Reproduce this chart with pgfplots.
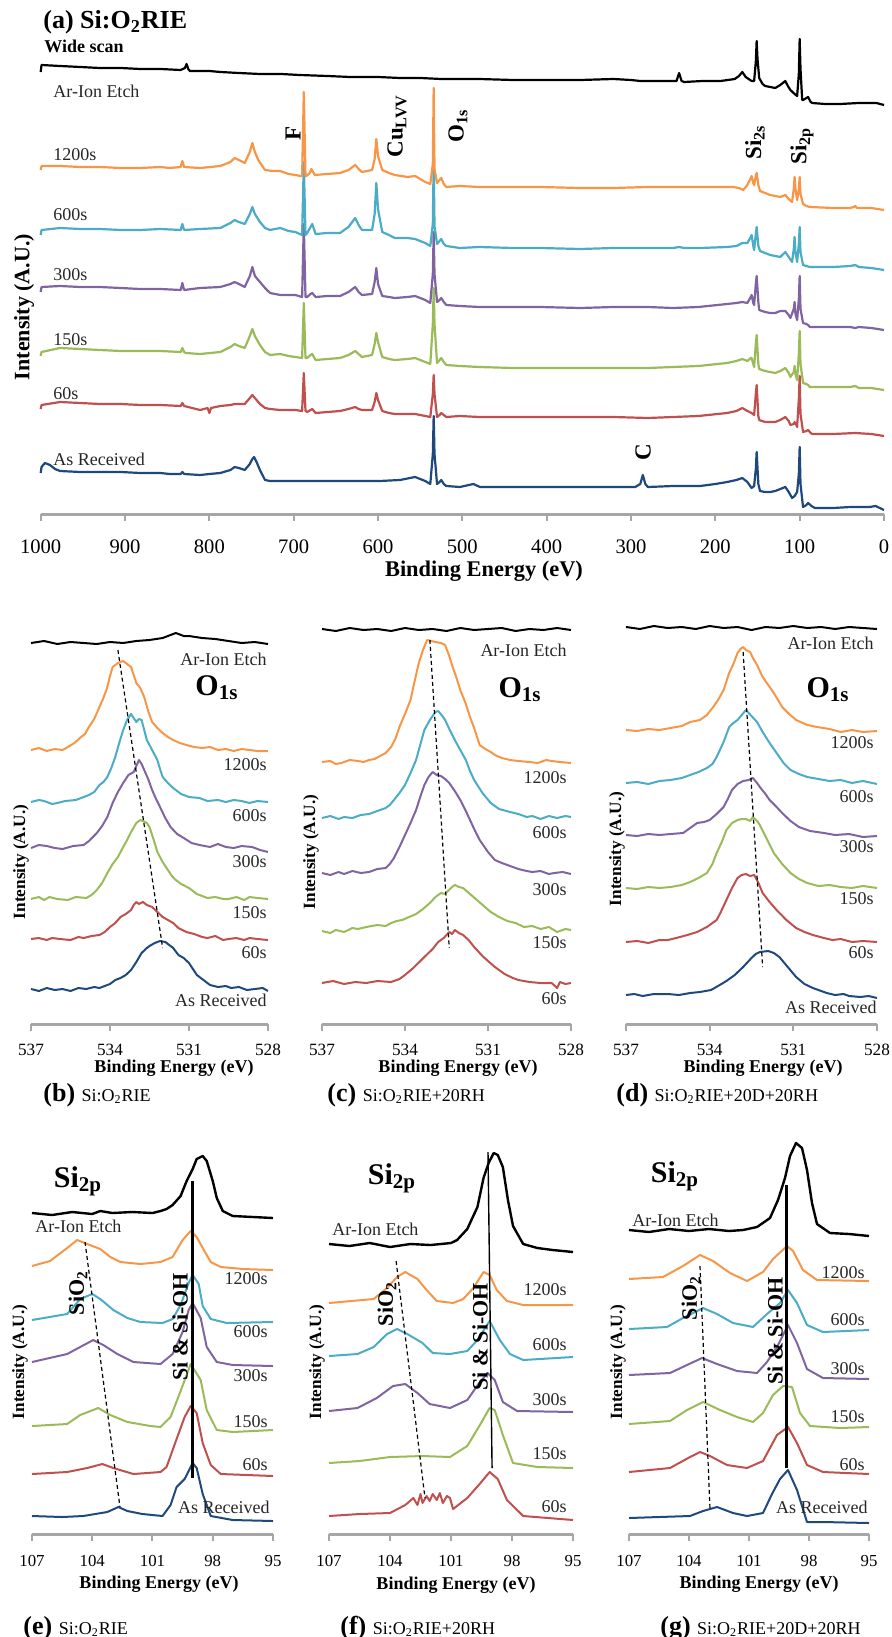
\documentclass[border=0pt]{standalone}
\usepackage{pgfplots}
\pgfplotsset{compat=1.18}
\usepackage{fontspec}
\setmainfont{Liberation Serif}

\definecolor{cBk}{HTML}{000000}
\definecolor{cOr}{HTML}{F79646}
\definecolor{cCy}{HTML}{4BACC6}
\definecolor{cPu}{HTML}{8064A2}
\definecolor{cGr}{HTML}{9BBB59}
\definecolor{cRd}{HTML}{C0504D}
\definecolor{cBl}{HTML}{1F497D}
\definecolor{axgray}{HTML}{A6A6A6}

\pgfplotsset{
  xps/.style={
    anchor=south west, scale only axis, clip=false,
    axis x line*=bottom, axis y line=none,
    x dir=reverse, enlargelimits=false, ymin=0,
    tick align=outside, major tick length=3.5pt,
    xtick style={draw=axgray, line width=1pt},
    x axis line style={draw=axgray, line width=1.5pt, -},
    /pgf/number format/assume math mode=true,
    /pgf/number format/1000 sep={},
    xticklabel style={inner sep=0pt, text=black},
    every axis plot/.append style={line width=1pt, line join=round, mark=none},
  },
}

\begin{document}
\begin{tikzpicture}
\path[use as bounding box] (0pt,0pt) rectangle (446pt,-818.5pt);

% ---------------- (a) wide scan ----------------
\begin{axis}[xps, at={(20.35pt,-257pt)}, width=421.65pt, height=242pt,
  xmin=0, xmax=1000, ymax=484, xtick={0,100,...,1000},
  xticklabel style={font=\fontsize{10.3}{12}\selectfont, yshift=-9pt},
  every axis plot/.append style={line width=1.1pt}]
\addplot[cBl] coordinates {(1000,41) (999,47) (995,51) (989,49) (983,45) (977,43) (953,42) (930,42) (905,42) (882,41) (858,41) (847,40) (834,40) (832,42) (830,40) (811,39) (800,40) (787,41) (775,44) (770,47) (765,46) (758,44) (752,50) (749,55) (747,57) (744,52) (740,44) (734,34) (728,33) (716,33) (693,33) (660,33) (633,33) (598,33) (574,34) (556,37) (550,35) (544,33) (538,30) (535,60) (534,98) (533,60) (530,30) (527,32) (525,34) (522,30) (519,28) (503,27) (487,30) (479,27) (440,27) (408,27) (360,27) (321,27) (295,27) (289,30) (286,39) (283,30) (280,27) (250,28) (218,28) (200,30) (186,32) (175,34) (168,36) (162,32) (157,26) (154,28) (152,45) (151,62) (149,30) (147,23) (141,22) (135,22) (129,23) (123,25) (117,27) (113,22) (109,16) (106,18) (103,22) (101,40) (100,67) (99,30) (96,7) (92,9) (90,11) (86,8) (82,6) (60,6) (40,7) (17,7) (10,8) (0,4)};
\addplot[cRd] coordinates {(1000,105) (999,109) (977,112) (953,111) (930,110) (905,110) (882,109) (858,109) (834,108) (832,111) (830,108) (811,104) (802,106) (800,101) (798,106) (787,108) (775,109) (770,110) (765,110) (758,110) (752,116) (749,119) (746,116) (740,110) (734,106) (728,105) (716,104) (706,104) (698,104) (690,103) (688,141) (686,103) (684,102) (680,104) (678,105) (676,103) (674,101) (660,102) (645,103) (635,105) (627,107) (623,105) (619,104) (607,104) (604,112) (602,121) (600,114) (595,103) (587,101) (580,100) (565,100) (556,100) (550,99) (544,98) (538,97) (535,120) (534,139) (533,120) (530,97) (527,99) (525,101) (522,99) (519,97) (503,98) (480,97) (440,97) (408,97) (360,97) (321,97) (280,96) (250,97) (220,98) (186,101) (175,103) (168,106) (162,103) (157,101) (154,99) (152,120) (151,129) (149,98) (148,94) (141,92) (135,92) (129,92) (123,94) (117,97) (113,93) (111,89) (107,90) (106,92) (104,89) (103,87) (101,115) (100,138) (99,100) (96,82) (92,83) (90,84) (87,81) (85,80) (60,80) (34,81) (15,80) (0,78)};
\addplot[cGr] coordinates {(1000,158) (999,162) (977,166) (953,165) (930,164) (905,163) (882,163) (858,163) (834,162) (832,166) (830,162) (828,161) (811,160) (787,162) (775,167) (770,170) (765,168) (758,166) (752,178) (749,185) (746,178) (740,169) (734,162) (728,159) (716,160) (706,158) (698,157) (690,156) (688,211) (686,156) (684,156) (680,159) (678,160) (676,157) (674,154) (660,155) (645,156) (635,159) (627,163) (623,160) (619,157) (607,159) (604,170) (602,181) (600,172) (595,157) (587,155) (580,154) (565,155) (556,156) (550,154) (544,152) (538,150) (535,190) (534,226) (533,190) (530,151) (527,154) (525,156) (522,152) (519,149) (503,148) (480,147) (440,146) (408,146) (360,146) (321,146) (280,146) (250,147) (220,148) (186,151) (175,153) (168,155) (162,153) (158,156) (157,156) (155,150) (154,147) (152,170) (151,179) (149,150) (148,145) (141,143) (135,142) (129,141) (123,143) (117,146) (113,141) (111,137) (107,142) (106,148) (105,140) (103,134) (101,160) (100,183) (99,150) (96,131) (92,130) (90,129) (88,127) (60,127) (40,127) (34,128) (30,126) (15,126) (0,124)};
\addplot[cPu] coordinates {(1000,222) (999,227) (977,228) (953,227) (930,227) (905,226) (882,225) (858,225) (834,224) (832,231) (830,224) (811,226) (787,227) (775,230) (770,232) (765,230) (758,227) (752,238) (749,247) (746,238) (740,232) (734,226) (728,221) (716,219) (706,219) (698,219) (690,217) (688,290) (686,217) (684,217) (680,220) (678,221) (676,219) (674,217) (660,218) (645,218) (635,222) (627,227) (623,222) (619,219) (607,220) (604,232) (602,246) (600,230) (595,218) (587,217) (580,216) (565,217) (556,218) (550,216) (544,214) (538,211) (535,240) (534,282) (533,240) (530,212) (527,214) (525,216) (522,212) (519,209) (503,208) (480,207) (440,207) (408,207) (360,206) (321,207) (280,207) (250,206) (220,207) (186,210) (175,211) (168,212) (162,211) (158,217) (157,219) (155,211) (154,209) (152,230) (151,238) (149,212) (148,204) (141,202) (135,201) (129,201) (123,203) (117,203) (113,199) (111,196) (107,205) (106,212) (105,200) (103,194) (101,215) (100,238) (99,205) (96,191) (92,190) (90,189) (88,187) (60,187) (40,187) (34,186) (30,187) (15,186) (0,184)};
\addplot[cCy] coordinates {(1000,279) (999,284) (977,286) (953,285) (930,285) (905,284) (882,284) (858,285) (834,284) (832,290) (830,284) (811,285) (787,286) (775,291) (770,294) (765,292) (758,290) (752,300) (749,307) (746,300) (740,292) (734,286) (728,284) (716,286) (706,283) (698,282) (690,279) (688,352) (686,279) (684,281) (680,287) (678,290) (676,285) (674,280) (660,281) (645,281) (635,287) (627,296) (623,289) (619,284) (607,284) (604,300) (602,331) (600,305) (595,282) (587,279) (580,276) (565,276) (556,275) (550,273) (544,271) (538,268) (535,290) (534,354) (533,288) (530,270) (527,273) (525,275) (522,270) (519,268) (503,266) (480,267) (440,266) (408,266) (360,265) (321,266) (280,266) (250,266) (243,267) (237,266) (218,266) (186,267) (175,268) (168,271) (162,271) (158,277) (157,279) (155,268) (154,264) (152,280) (151,287) (149,268) (147,263) (141,261) (135,259) (129,258) (123,257) (117,262) (113,257) (109,252) (107,265) (106,277) (105,262) (103,252) (101,270) (100,287) (99,262) (96,249) (92,248) (88,247) (60,247) (40,248) (34,249) (30,247) (15,246) (0,244)};
\addplot[cOr] coordinates {(1000,344) (999,348) (977,348) (953,347) (930,347) (905,346) (882,346) (858,347) (847,346) (834,347) (832,353) (830,347) (811,346) (787,348) (775,352) (770,356) (765,354) (758,351) (752,362) (749,371) (746,362) (742,354) (734,344) (725,343) (716,343) (706,340) (698,339) (692,338) (690,338) (688,422) (686,338) (685,338) (681,341) (679,345) (677,342) (675,339) (660,340) (645,341) (635,344) (627,349) (623,345) (619,342) (607,344) (604,355) (602,375) (600,358) (595,344) (587,341) (580,339) (565,337) (556,338) (550,335) (544,332) (538,330) (535,350) (534,426) (533,345) (530,331) (527,334) (525,336) (522,330) (519,327) (503,328) (480,327) (440,327) (408,327) (360,326) (321,326) (280,327) (251,327) (220,327) (186,327) (179,327) (172,326) (167,324) (162,329) (158,336) (157,338) (155,331) (154,329) (152,338) (151,341) (149,329) (147,323) (141,321) (135,319) (129,318) (123,317) (117,319) (113,315) (109,312) (107,325) (106,337) (105,325) (103,314) (101,325) (100,337) (99,320) (96,310) (92,308) (88,307) (60,306) (40,306) (36,307) (34,308) (32,306) (15,306) (0,304)};
\addplot[cBk] coordinates {(1000,442) (999,449) (977,448) (953,447) (930,446) (905,446) (882,445) (858,445) (834,444) (829,446) (827,450) (825,445) (823,443) (800,443) (787,442) (765,441) (740,440) (715,440) (693,439) (660,438) (633,437) (600,437) (574,436) (550,436) (525,435) (480,435) (440,434) (408,434) (360,434) (321,435) (300,434) (289,433) (260,433) (246,433) (243,441) (240,433) (237,432) (215,433) (194,433) (185,434) (177,435) (172,438) (168,442) (164,437) (157,433) (154,433) (152,452) (151,473) (150,455) (148,436) (144,430) (141,428) (135,427) (129,426) (123,429) (117,433) (114,428) (111,424) (106,420) (103,418) (101,440) (100,475) (99,445) (97,414) (96,414) (92,416) (90,417) (87,412) (85,411) (70,410) (52,410) (30,411) (9,411) (0,409)};
\end{axis}

% ---------------- (b) O1s ----------------
\begin{axis}[xps, at={(15.5pt,-512pt)}, width=118.5pt, height=204.5pt,
  xmin=528, xmax=537, ymax=409, xtick={528,531,534,537},
  xticklabel style={font=\fontsize{8.6}{10}\selectfont, yshift=-6.5pt}]
\addplot[cBl] coordinates {(537,35) (536.7,33) (536.4,36) (536.1,34) (535.8,35) (535.5,33) (535.2,36) (534.9,35) (534.6,37) (534.4,36) (534.0,40) (533.8,44) (533.6,46) (533.4,49) (533.2,54) (533.0,62) (532.8,71) (532.6,76) (532.5,78) (532.3,81) (532.1,83) (531.9,82) (531.8,80) (531.6,76) (531.4,69) (531.2,66) (531.0,61) (530.85,55) (530.7,49) (530.5,45) (530.2,39) (529.9,37) (529.6,38) (529.4,36) (529.1,37) (528.8,34) (528.5,35) (528.2,36) (528,33)};
\addplot[cRd] coordinates {(537,85) (536.7,86) (536.4,84) (536.2,86) (535.9,85) (535.5,84) (535.2,87) (535.0,86) (534.7,88) (534.4,89) (534.2,92) (534.0,97) (533.8,101) (533.6,107) (533.4,110) (533.2,114) (533.1,119) (533.0,122) (532.9,120) (532.75,122) (532.6,119) (532.4,117) (532.2,112) (532.0,107) (531.8,104) (531.6,101) (531.4,96) (531.1,92) (530.8,90) (530.5,87) (530.3,86) (530.0,88) (529.7,84) (529.5,85) (529.2,86) (528.9,84) (528.7,86) (528.4,85) (528,84)};
\addplot[cGr] coordinates {(537,125) (536.7,127) (536.5,124) (536.3,127) (536.0,125) (535.6,124) (535.3,127) (534.9,126) (534.7,129) (534.5,134) (534.3,141) (534.1,151) (533.9,160) (533.7,167) (533.5,177) (533.35,184) (533.2,192) (533.0,201) (532.85,204) (532.75,203) (532.6,201) (532.5,197) (532.35,185) (532.2,172) (532.0,162) (531.8,154) (531.65,148) (531.5,144) (531.3,140) (531.0,136) (530.7,130) (530.3,126) (530.0,127) (529.7,125) (529.5,125) (529.2,127) (528.9,124) (528.7,127) (528.4,126) (528,125)};
\addplot[cPu] coordinates {(537,176) (536.7,179) (536.4,178) (536.1,176) (535.8,175) (535.4,178) (535.0,179) (534.8,183) (534.5,191) (534.3,198) (534.1,207) (533.9,221) (533.7,232) (533.5,241) (533.3,249) (533.1,252) (533.0,258) (532.9,264) (532.8,260) (532.7,254) (532.55,245) (532.4,234) (532.25,225) (532.1,217) (531.9,206) (531.7,197) (531.45,190) (531.2,186) (530.9,181) (530.6,179) (530.2,177) (529.9,180) (529.6,177) (529.3,176) (529.0,178) (528.6,177) (528.3,174) (528,172)};
\addplot[cCy] coordinates {(537,222) (536.7,224) (536.5,223) (536.2,220) (536,221) (535.7,223) (535.3,224) (535.0,227) (534.8,229) (534.6,232) (534.4,239) (534.25,242) (534.1,247) (533.95,256) (533.8,267) (533.65,281) (533.5,294) (533.35,304) (533.2,310) (533.1,306) (533.0,302) (532.9,305) (532.8,304) (532.7,294) (532.6,284) (532.4,274) (532.2,264) (532.1,255) (532.0,247) (531.8,241) (531.6,236) (531.3,230) (531.0,227) (530.6,226) (530.3,223) (529.9,224) (529.6,222) (529.3,224) (529,223) (528.7,221) (528.4,223) (528,222)};
\addplot[cOr] coordinates {(537,274) (536.7,276) (536.4,273) (536.1,275) (535.8,274) (535.6,277) (535.35,281) (535.1,287) (534.95,290) (534.8,297) (534.6,305) (534.4,317) (534.25,326) (534.1,337) (534.0,348) (533.9,357) (533.7,361) (533.5,363) (533.35,360) (533.2,357) (533.1,349) (533.0,341) (532.85,336) (532.7,327) (532.55,313) (532.4,302) (532.2,296) (532.0,291) (531.8,287) (531.6,284) (531.35,281) (531.1,279) (530.8,277) (530.5,276) (530.2,277) (529.9,274) (529.6,275) (529.3,273) (529.0,275) (528.7,274) (528.4,273) (528,273)};
\addplot[cBk] coordinates {(537,381) (536.5,383) (536,380) (535.5,382) (535,381) (534.5,380) (534,382) (533.5,381) (533,383) (532.5,384) (532,386) (531.7,389) (531.5,391) (531.2,388) (531,388) (530.5,386) (530,385) (529.5,383) (529,381) (528.5,382) (528,380)};
\addplot[black, line width=0.6pt, dash pattern=on 2pt off 1.5pt] coordinates {(533.7,374) (532.0,76)};
\end{axis}

% ---------------- (c) O1s ----------------
\begin{axis}[xps, at={(161pt,-512pt)}, width=124.5pt, height=204.5pt,
  xmin=528, xmax=537, ymax=409, xtick={528,531,534,537},
  xticklabel style={font=\fontsize{8.6}{10}\selectfont, yshift=-6.5pt}]
\addplot[cRd] coordinates {(537,41) (536.6,43) (536.2,40) (535.8,42) (535.4,41) (535.0,43) (534.5,42) (534.2,45) (534.0,49) (533.7,56) (533.3,67) (533.0,75) (532.8,82) (532.6,86) (532.4,92) (532.3,90) (532.2,94) (532.05,91) (531.9,89) (531.7,84) (531.5,77) (531.2,68) (531.0,63) (530.75,57) (530.4,50) (530.1,46) (529.9,44) (529.5,42) (529.1,41) (528.7,41) (528.5,36) (528.4,42) (528.2,40) (528,41)};
\addplot[cGr] coordinates {(537,93) (536.7,91) (536.5,94) (536.2,92) (535.9,96) (535.7,95) (535.4,97) (535.0,99) (534.7,98) (534.5,101) (534.3,103) (534.1,104) (533.85,107) (533.6,110) (533.35,115) (533.1,121) (532.9,127) (532.7,131) (532.55,130) (532.45,133) (532.3,137) (532.2,139) (532.05,137) (531.9,136) (531.65,130) (531.4,124) (531.15,118) (530.9,112) (530.6,107) (530.3,103) (530.0,101) (529.7,97) (529.4,98) (529.1,95) (528.8,97) (528.5,92) (528.2,95) (528,94)};
\addplot[cPu] coordinates {(537,151) (536.7,149) (536.4,152) (536.2,150) (535.9,153) (535.6,151) (535.3,152) (535.0,155) (534.7,156) (534.55,160) (534.4,166) (534.2,177) (534.0,189) (533.8,201) (533.6,214) (533.45,227) (533.3,239) (533.15,247) (533.0,252) (532.85,249) (532.7,248) (532.55,245) (532.4,241) (532.2,233) (532.0,224) (531.8,213) (531.65,204) (531.5,195) (531.3,184) (531.0,172) (530.75,164) (530.5,161) (530.2,158) (529.9,155) (529.6,153) (529.4,152) (529.1,153) (528.8,150) (528.6,151) (528.3,152) (528,150)};
\addplot[cCy] coordinates {(537,206) (536.7,208) (536.4,205) (536.2,207) (535.9,206) (535.6,209) (535.3,210) (535.0,213) (534.7,216) (534.55,219) (534.4,224) (534.2,231) (534.0,239) (533.8,251) (533.6,264) (533.45,279) (533.3,294) (533.1,304) (532.9,312) (532.8,313) (532.65,308) (532.55,304) (532.4,295) (532.2,284) (532.0,274) (531.8,264) (531.65,253) (531.5,244) (531.2,231) (530.9,221) (530.6,215) (530.2,212) (529.9,210) (529.6,207) (529.4,208) (529.1,205) (528.8,208) (528.5,206) (528.2,208) (528,207)};
\addplot[cOr] coordinates {(537,262) (536.7,263) (536.5,260) (536.3,261) (536.0,264) (535.7,263) (535.5,262) (535.3,264) (535.1,265) (534.9,268) (534.7,271) (534.5,277) (534.35,285) (534.2,297) (534.0,310) (533.8,324) (533.65,343) (533.5,361) (533.35,374) (533.2,384) (533.05,383) (532.9,382) (532.7,381) (532.55,379) (532.4,368) (532.3,359) (532.15,347) (532.0,334) (531.8,320) (531.65,307) (531.5,296) (531.3,279) (531.1,275) (530.9,272) (530.75,269) (530.5,266) (530.2,264) (529.9,263) (529.5,262) (529.2,261) (528.9,264) (528.7,263) (528.4,262) (528,261)};
\addplot[cBk] coordinates {(537,395) (536.5,393) (536,396) (535.5,394) (535,395) (534.5,393) (534,396) (533.5,394) (533,395) (532.5,393) (532,396) (531.5,394) (531,395) (530.5,396) (530,393) (529.5,395) (529,394) (528.5,396) (528,394)};
\addplot[black, line width=0.6pt, dash pattern=on 2pt off 1.5pt] coordinates {(533.1,384) (532.4,76)};
\end{axis}

% ---------------- (d) O1s ----------------
\begin{axis}[xps, at={(313pt,-512pt)}, width=125.5pt, height=204.5pt,
  xmin=528, xmax=537, ymax=409, xtick={528,531,534,537},
  xticklabel style={font=\fontsize{8.6}{10}\selectfont, yshift=-6.5pt}]
\addplot[cBl] coordinates {(537,29) (536.7,30) (536.4,28) (536.0,30) (535.5,30) (535.1,29) (534.7,31) (534.35,32) (533.95,34) (533.7,38) (533.4,43) (533.1,49) (532.8,57) (532.5,66) (532.35,70) (532.2,72) (531.9,73) (531.7,71) (531.5,67) (531.2,57) (530.9,47) (530.6,40) (530.3,36) (530.1,34) (529.8,31) (529.5,29) (529.2,30) (529.0,28) (528.6,27) (528.3,28) (528,26)};
\addplot[cRd] coordinates {(537,82) (536.6,83) (536.2,81) (535.8,84) (535.5,84) (535.2,86) (534.8,89) (534.45,92) (534.1,97) (533.75,104) (533.6,112) (533.4,124) (533.2,136) (533.0,146) (532.85,149) (532.7,150) (532.55,148) (532.4,149) (532.25,141) (532.1,131) (531.85,122) (531.6,114) (531.25,104) (530.9,96) (530.6,92) (530.3,89) (529.9,86) (529.6,84) (529.3,85) (528.9,82) (528.5,83) (528,82)};
\addplot[cGr] coordinates {(537,136) (536.6,135) (536.2,137) (535.8,136) (535.4,137) (535.0,139) (534.7,142) (534.4,146) (534.1,151) (533.9,160) (533.75,171) (533.55,183) (533.4,194) (533.2,201) (533.0,204) (532.85,205) (532.7,205) (532.55,203) (532.45,207) (532.3,203) (532.2,199) (531.95,185) (531.7,171) (531.4,160) (531.1,151) (530.8,145) (530.5,141) (530.1,138) (529.7,139) (529.3,137) (528.9,136) (528.5,138) (528,136)};
\addplot[cPu] coordinates {(537,189) (536.6,188) (536.2,190) (535.8,189) (535.4,190) (534.95,191) (534.7,196) (534.45,201) (534.2,202) (534.0,204) (533.75,210) (533.5,217) (533.35,225) (533.2,234) (533.0,240) (532.8,243) (532.6,244) (532.45,246) (532.3,241) (532.2,237) (532.0,230) (531.85,224) (531.6,217) (531.4,211) (531.1,203) (530.8,197) (530.4,193) (529.9,191) (529.5,189) (529.0,190) (528.5,187) (528,188)};
\addplot[cCy] coordinates {(537,241) (536.6,242) (536.2,240) (535.8,243) (535.4,244) (535.0,246) (534.7,249) (534.4,252) (534.1,256) (533.9,260) (533.75,267) (533.5,282) (533.3,297) (533.15,301) (533.0,304) (532.85,309) (532.7,314) (532.5,308) (532.3,302) (532.1,292) (531.85,281) (531.6,271) (531.35,261) (531.1,254) (530.8,250) (530.5,247) (530.1,245) (529.7,243) (529.3,244) (528.9,241) (528.5,243) (528,240)};
\addplot[cOr] coordinates {(537,294) (536.6,293) (536.2,295) (535.8,294) (535.4,296) (535.0,298) (534.7,302) (534.35,304) (534.1,309) (533.9,316) (533.7,324) (533.5,334) (533.3,351) (533.15,360) (533.0,371) (532.9,375) (532.8,377) (532.7,374) (532.55,372) (532.45,366) (532.3,359) (532.1,347) (531.9,339) (531.7,331) (531.55,324) (531.4,317) (531.15,310) (530.9,304) (530.5,299) (530.15,297) (529.7,295) (529.3,292) (528.9,294) (528.5,292) (528,293)};
\addplot[cBk] coordinates {(537,397) (536.5,395) (536,398) (535.5,396) (535,397) (534.5,395) (534,398) (533.5,396) (533,397) (532.5,394) (532,397) (531.5,396) (531,398) (530.5,396) (530,397) (529.5,395) (529,397) (528.5,396) (528,395)};
\addplot[black, line width=0.6pt, dash pattern=on 2pt off 1.5pt] coordinates {(532.8,372) (532.1,57)};
\end{axis}

% ---------------- (e) Si2p ----------------
\begin{axis}[xps, at={(16pt,-767pt)}, width=120.5pt, height=202pt,
  xmin=95, xmax=107, ymax=404, xtick={95,98,101,104,107},
  xticklabel style={font=\fontsize{8.4}{10}\selectfont, yshift=-6.75pt}]
\addplot[cBl] coordinates {(107,18) (105.5,17) (104.45,18) (103.25,22) (102.7,27) (102.25,23) (101.5,20) (100.5,18) (100.1,29) (99.8,47) (99.4,55) (99.0,71) (98.8,66) (98.5,40) (98.1,18) (97.0,14) (95,13)};
\addplot[cRd] coordinates {(107,60) (105.25,62) (104.25,66) (103.5,70) (102.95,66) (101.95,60) (100.6,62) (100.3,67) (99.8,95) (99.4,117) (99.1,128) (98.8,121) (98.5,91) (98.1,69) (97.6,60) (95,58)};
\addplot[cGr] coordinates {(107,108) (105.25,110) (104.6,119) (103.7,126) (103.1,119) (102.25,112) (101.1,108) (100.6,107) (100.1,117) (99.6,143) (99.1,170) (98.6,154) (98.3,124) (97.8,104) (97.0,102) (95,104)};
\addplot[cPu] coordinates {(107,172) (105.25,180) (104.6,187) (103.95,194) (103.45,189) (102.75,180) (101.95,172) (100.6,170) (100.0,180) (99.5,202) (99.2,224) (99.0,231) (98.6,216) (98.3,187) (97.8,172) (97.0,169) (95,168)};
\addplot[cCy] coordinates {(107,214) (105.25,220) (104.6,235) (104.0,240) (103.6,235) (102.95,224) (102.25,216) (101.6,212) (100.5,211) (100.0,215) (99.6,229) (99.2,251) (99.0,259) (98.7,250) (98.5,228) (98.1,215) (97.3,211) (95,212)};
\addplot[cOr] coordinates {(107,268) (106.1,273) (105.25,286) (104.75,294) (104.25,290) (103.6,285) (103.1,277) (102.6,272) (101.6,270) (100.6,272) (100.0,277) (99.5,294) (99.1,303) (98.8,297) (98.5,286) (98.1,272) (97.6,267) (96.5,265) (95,264)};
\addplot[cBk, line width=1.2pt] coordinates {(107,321) (106,319) (105,322) (104,320) (103.6,323) (103,321) (102,322) (101,321) (100.6,323) (100.3,325) (100.0,329) (99.6,338) (99.3,353) (99.0,365) (98.8,375) (98.5,378) (98.3,373) (98.0,353) (97.8,336) (97.5,323) (97.0,318) (96,317) (95,316)};
\addplot[black, line width=0.6pt, dash pattern=on 2pt off 1.5pt] coordinates {(104.36,292) (102.62,27)};
\addplot[black, line width=1.5pt] coordinates {(99.03,353) (99.03,56)};
\end{axis}

% ---------------- (f) Si2p ----------------
\begin{axis}[xps, at={(164.5pt,-767pt)}, width=122pt, height=202pt,
  xmin=95, xmax=107, ymax=404, xtick={95,98,101,104,107},
  xticklabel style={font=\fontsize{8.4}{10}\selectfont, yshift=-6.75pt}]
\addplot[cRd] coordinates {(107,18) (105.5,20) (104.0,21) (103.25,29) (102.85,36) (102.65,29) (102.5,40) (102.4,31) (102.2,38) (102.05,33) (101.9,40) (101.7,34) (101.55,41) (101.4,31) (101.2,38) (101.05,36) (100.9,25) (100.2,36) (99.55,51) (99.1,62) (98.7,55) (98.25,34) (97.45,18) (95,14)};
\addplot[cGr] coordinates {(107,71) (105.5,73) (104.0,77) (102.4,78) (101.05,77) (100.2,88) (99.55,110) (99.1,126) (98.85,124) (98.45,99) (97.95,71) (96.75,67) (95,66)};
\addplot[cPu] coordinates {(107,123) (105.6,126) (104.65,136) (103.85,148) (103.25,150) (102.65,141) (102.05,130) (101.05,126) (100.2,134) (99.65,150) (99.2,161) (98.85,154) (98.45,132) (97.75,123) (95,122)};
\addplot[cCy] coordinates {(107,178) (105.6,180) (104.8,187) (104.15,200) (103.65,205) (103.15,200) (102.4,191) (101.9,181) (101.05,180) (100.2,183) (99.7,194) (99.1,213) (98.6,194) (98.1,180) (97.45,174) (95,177)};
\addplot[cOr] coordinates {(107,231) (104.8,235) (104.15,246) (103.65,257) (103.25,262) (102.65,255) (102.2,244) (101.7,233) (100.9,231) (100.4,235) (99.9,246) (99.4,262) (99.1,259) (98.75,244) (98.25,233) (97.45,229) (95,229)};
\addplot[cBk, line width=1.2pt] coordinates {(107,290) (106,288) (105,291) (104,287) (103,290) (102,289) (101,291) (100.7,294) (100.2,305) (99.7,327) (99.4,356) (99.15,371) (98.9,381) (98.7,379) (98.45,367) (98.2,334) (97.95,308) (97.45,290) (96.75,286) (96,284) (95,282)};
\addplot[black, line width=0.6pt, dash pattern=on 2pt off 1.5pt] coordinates {(103.70,273) (102.28,36)};
\addplot[black, line width=0.7pt] coordinates {(99.18,382) (98.98,66)};
\end{axis}

% ---------------- (g) Si2p ----------------
\begin{axis}[xps, at={(314.5pt,-767pt)}, width=120pt, height=202pt,
  xmin=95, xmax=107, ymax=404, xtick={95,98,101,104,107},
  xticklabel style={font=\fontsize{8.4}{10}\selectfont, yshift=-6.75pt}]
\addplot[cBl] coordinates {(107,16) (105.5,17) (103.95,18) (103.3,23) (102.6,27) (101.8,21) (101.1,18) (100.3,21) (99.85,40) (99.45,55) (99.05,64) (98.6,44) (98.1,12) (97.3,12) (95,11)};
\addplot[cRd] coordinates {(107,62) (104.95,66) (103.95,77) (103.45,82) (102.95,78) (102.1,69) (101.1,66) (100.3,73) (99.6,99) (99.05,107) (98.6,91) (98.1,69) (97.3,62) (95,60)};
\addplot[cGr] coordinates {(107,110) (104.95,113) (104.1,124) (103.3,132) (102.45,124) (101.6,117) (100.8,112) (100.3,121) (99.8,139) (99.3,148) (98.85,147) (98.45,121) (97.95,108) (96.45,106) (95,107)};
\addplot[cPu] coordinates {(107,159) (104.95,161) (104.1,169) (103.35,176) (102.6,170) (101.6,163) (100.6,161) (100.1,172) (99.6,187) (99.05,209) (98.6,191) (98.1,165) (97.3,156) (95,155)};
\addplot[cCy] coordinates {(107,205) (105.1,207) (104.3,216) (103.3,226) (102.6,220) (101.8,211) (100.8,207) (100.1,220) (99.45,231) (99.05,244) (98.6,231) (98.1,209) (97.3,202) (95,204)};
\addplot[cOr] coordinates {(107,255) (105.3,257) (104.3,268) (103.45,279) (102.8,273) (101.95,261) (101.1,253) (100.3,262) (99.8,275) (99.1,288) (98.8,283) (98.3,264) (97.6,254) (95,253)};
\addplot[cBk, line width=1.2pt] coordinates {(107,304) (106,302) (105,305) (104,303) (103,305) (102,303) (101.3,304) (100.6,307) (99.95,316) (99.55,334) (99.2,356) (98.95,378) (98.65,391) (98.35,386) (98.1,364) (97.85,331) (97.6,310) (96.95,301) (96,300) (95,298)};
\addplot[black, line width=0.6pt, dash pattern=on 2pt off 1.5pt] coordinates {(103.45,268) (102.95,25)};
\addplot[black, line width=1.5pt] coordinates {(99.15,349) (99.15,66)};
\end{axis}

% ---------------- text, in pixel units of the reference ----------------
\begin{scope}[x=0.5pt, y=-0.5pt,
  every node/.style={inner sep=0pt, text=black},
  lbl/.style={font=\fontsize{9}{10}\selectfont, text=black!85},
  pk/.style={font=\bfseries\fontsize{11.5}{13}\selectfont, rotate=90},
  big/.style={font=\bfseries\fontsize{15}{17}\selectfont},
  yl/.style={font=\bfseries\fontsize{8.6}{10}\selectfont, rotate=90},
  xl/.style={font=\bfseries\fontsize{9}{10}\selectfont},
  rl/.style={font=\bfseries\fontsize{11}{13}\selectfont, rotate=90},
  capn/.style={anchor=west}]
% (a)
\node[anchor=west, font=\bfseries\fontsize{13}{15}\selectfont] at (43,22) {(a) Si:O\textsubscript{2}RIE};
\node[anchor=west, font=\bfseries\fontsize{9}{10}\selectfont] at (44,46) {Wide scan};
\node[lbl, anchor=west] at (53,91) {Ar-Ion Etch};
\node[lbl, anchor=west] at (53,155) {1200s};
\node[lbl, anchor=west] at (53,215) {600s};
\node[lbl, anchor=west] at (53,275) {300s};
\node[lbl, anchor=west] at (53,340) {150s};
\node[lbl, anchor=west] at (53,394) {60s};
\node[lbl, anchor=west] at (53,459) {As Received};
\node[pk] at (293,133) {F};
\node[pk] at (397,126) {Cu\textsubscript{LVV}};
\node[pk] at (458,126) {O\textsubscript{1s}};
\node[pk] at (755,142) {Si\textsubscript{2s}};
\node[pk] at (802,146) {Si\textsubscript{2p}};
\node[pk] at (643,452) {C};
\node[font=\bfseries\fontsize{11}{13}\selectfont, rotate=90] at (24,307) {Intensity (A.U.)};
\node[font=\bfseries\fontsize{11.2}{13}\selectfont] at (484,571) {Binding Energy (eV)};
% (b)
\node[lbl, anchor=east] at (267,659) {Ar-Ion Etch};
\node[big] at (217,688) {O\textsubscript{1s}};
\node[lbl, anchor=east] at (267,765) {1200s};
\node[lbl, anchor=east] at (267,816) {600s};
\node[lbl, anchor=east] at (267,862) {300s};
\node[lbl, anchor=east] at (267,913) {150s};
\node[lbl, anchor=east] at (267,953) {60s};
\node[lbl, anchor=east] at (267,1000) {As Received};
\node[yl] at (21,862) {Intensity (A.U.)};
\node[xl] at (174,1068) {Binding Energy (eV)};
\node[capn] at (43,1095) {\bfseries\fontsize{13}{15}\selectfont (b) \mdseries\fontsize{9}{10}\selectfont Si:O\textsubscript{2}RIE};
% (c)
\node[lbl, anchor=east] at (567,650) {Ar-Ion Etch};
\node[big] at (520,690) {O\textsubscript{1s}};
\node[lbl, anchor=east] at (567,778) {1200s};
\node[lbl, anchor=east] at (567,833) {600s};
\node[lbl, anchor=east] at (567,890) {300s};
\node[lbl, anchor=east] at (567,943) {150s};
\node[lbl, anchor=east] at (567,999) {60s};
\node[yl] at (311,852) {Intensity (A.U.)};
\node[xl] at (458,1068) {Binding Energy (eV)};
\node[capn] at (327,1095) {\bfseries\fontsize{13}{15}\selectfont (c) \mdseries\fontsize{9}{10}\selectfont Si:O\textsubscript{2}RIE+20RH};
% (d)
\node[lbl, anchor=east] at (874,643) {Ar-Ion Etch};
\node[big] at (828,690) {O\textsubscript{1s}};
\node[lbl, anchor=east] at (874,743) {1200s};
\node[lbl, anchor=east] at (874,797) {600s};
\node[lbl, anchor=east] at (874,847) {300s};
\node[lbl, anchor=east] at (874,899) {150s};
\node[lbl, anchor=east] at (874,953) {60s};
\node[lbl, anchor=east] at (877,1007) {As Received};
\node[yl] at (617,849) {Intensity (A.U.)};
\node[xl] at (763,1068) {Binding Energy (eV)};
\node[capn] at (616,1095) {\bfseries\fontsize{13}{15}\selectfont (d) \mdseries\fontsize{9}{10}\selectfont Si:O\textsubscript{2}RIE+20D+20RH};
% (e)
\node[big] at (78,1181) {Si\textsubscript{2p}};
\node[lbl, anchor=west] at (35,1226) {Ar-Ion Etch};
\node[lbl, anchor=east] at (268,1279) {1200s};
\node[lbl, anchor=east] at (268,1332) {600s};
\node[lbl, anchor=east] at (268,1376) {300s};
\node[lbl, anchor=east] at (268,1422) {150s};
\node[lbl, anchor=east] at (268,1465) {60s};
\node[lbl, anchor=east] at (270,1507) {As Received};
\node[rl] at (78,1293) {SiO\textsubscript{2}};
\node[rl] at (180,1327) {Si \& Si-OH};
\node[yl] at (20,1362) {Intensity (A.U.)};
\node[xl] at (159,1584) {Binding Energy (eV)};
\node[capn] at (23,1628) {\bfseries\fontsize{13}{15}\selectfont (e) \mdseries\fontsize{9}{10}\selectfont Si:O\textsubscript{2}RIE};
% (f)
\node[big] at (392,1178) {Si\textsubscript{2p}};
\node[lbl, anchor=west] at (332,1229) {Ar-Ion Etch};
\node[lbl, anchor=east] at (567,1290) {1200s};
\node[lbl, anchor=east] at (567,1345) {600s};
\node[lbl, anchor=east] at (567,1400) {300s};
\node[lbl, anchor=east] at (567,1454) {150s};
\node[lbl, anchor=east] at (567,1507) {60s};
\node[rl] at (387,1304) {SiO\textsubscript{2}};
\node[rl] at (480,1337) {Si \& Si-OH};
\node[yl] at (317,1362) {Intensity (A.U.)};
\node[xl] at (456,1585) {Binding Energy (eV)};
\node[capn] at (340,1628) {\bfseries\fontsize{13}{15}\selectfont (f) \mdseries\fontsize{9}{10}\selectfont Si:O\textsubscript{2}RIE+20RH};
% (g)
\node[big] at (675,1176) {Si\textsubscript{2p}};
\node[lbl, anchor=west] at (632,1220) {Ar-Ion Etch};
\node[lbl, anchor=east] at (865,1273) {1200s};
\node[lbl, anchor=east] at (865,1320) {600s};
\node[lbl, anchor=east] at (865,1369) {300s};
\node[lbl, anchor=east] at (865,1417) {150s};
\node[lbl, anchor=east] at (865,1465) {60s};
\node[lbl, anchor=east] at (868,1507) {As Received};
\node[rl] at (691,1298) {SiO\textsubscript{2}};
\node[rl] at (775,1331) {Si \& Si-OH};
\node[yl] at (618,1362) {Intensity (A.U.)};
\node[xl] at (759,1584) {Binding Energy (eV)};
\node[capn] at (660,1628) {\bfseries\fontsize{13}{15}\selectfont (g) \mdseries\fontsize{9}{10}\selectfont Si:O\textsubscript{2}RIE+20D+20RH};
\end{scope}
\end{tikzpicture}
\end{document}
